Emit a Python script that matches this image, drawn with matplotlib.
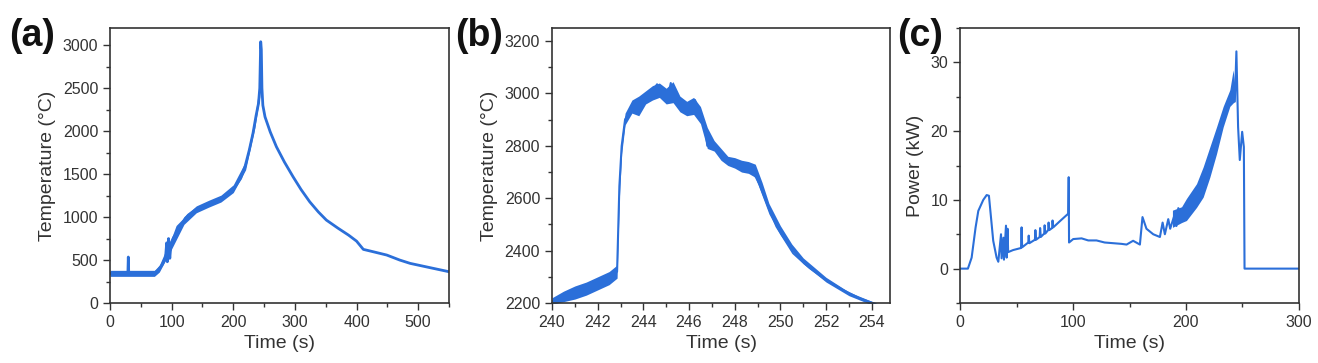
import numpy as np
import matplotlib.pyplot as plt
from matplotlib.ticker import MultipleLocator

plt.rcParams['font.family'] = ['Liberation Sans', 'DejaVu Sans']

BLUE = '#2b6fd9'
DARK = '#333333'

# (a) full temperature history
t_a = [0, 10, 20, 29, 29.7, 30.4, 40, 50, 60, 72, 78, 85, 90, 92, 93, 95, 97, 99, 100,
       105, 110, 120, 127, 140, 154, 170, 181, 195, 203, 212, 219, 226, 232, 237, 241,
       243, 244.5, 245.5, 246.5, 248, 251.5, 260, 270, 283, 297, 310, 324, 338, 351,
       370, 387, 400, 411, 425, 449, 470, 487, 520, 550]
T_a = [345, 340, 345, 340, 535, 340, 345, 340, 345, 345, 380, 450, 520, 700, 480, 750,
       520, 690, 700, 790, 887, 960, 1023, 1090, 1140, 1180, 1221, 1290, 1353, 1450,
       1585, 1780, 1975, 2180, 2325, 2500, 3040, 2950, 2500, 2300, 2166, 1990, 1818,
       1640, 1469, 1320, 1178, 1060, 965, 870, 790, 720, 624, 600, 558, 500, 461, 410, 364]
band_t_a = [0, 72, 80, 100, 120, 140, 160, 180, 200, 220, 235, 243]
band_lo_a = [310, 310, 360, 630, 915, 1050, 1115, 1175, 1285, 1550, 2040, 2400]
band_hi_a = [380, 380, 440, 770, 1005, 1130, 1195, 1255, 1375, 1650, 2160, 2580]

# (b) zoom on the peak
t_b = [240, 240.5, 241, 241.5, 242, 242.5, 242.85, 242.95, 243.05, 243.2, 243.5, 243.7,
       243.8, 243.9, 244.1, 244.36, 244.6, 244.9, 245.1, 245.2, 245.3, 245.53, 245.75,
       245.97, 246.26, 246.5, 246.7, 246.8, 246.98, 247.3, 247.64, 248.0, 248.37, 248.8,
       249.1, 249.5, 249.83, 250.2, 250.56, 251.0, 251.29, 252.0, 252.74, 253.47, 254.2, 254.8]
T_b = [2205, 2225, 2240, 2255, 2275, 2295, 2320, 2646, 2799, 2901, 2946, 2975,
       2925, 2960, 2985, 3003, 3035, 2990, 2995, 3040, 2985, 2952, 2935,
       2940, 2975, 2915, 2875, 2800, 2824, 2785, 2754, 2735, 2722, 2703,
       2650, 2560, 2492, 2440, 2390, 2355, 2333, 2288, 2250, 2218, 2195, 2170]
band_t_b = [240, 240.5, 241, 241.5, 242, 242.5, 242.85, 242.95, 243.05, 243.2, 243.5,
            243.8, 244.1, 244.4, 244.7, 245.0, 245.3, 245.6, 245.9, 246.2, 246.5, 246.8,
            247.1, 247.4, 247.7, 248.0, 248.3, 248.6, 248.9, 249.2, 249.5, 250, 250.5,
            251, 252, 253, 254.8]
band_lo_b = [2195, 2205, 2215, 2230, 2250, 2270, 2295, 2600, 2770, 2880, 2925, 2915,
             2960, 2975, 2985, 2960, 2965, 2930, 2915, 2920, 2885, 2790, 2780, 2745,
             2725, 2715, 2700, 2695, 2680, 2610, 2540, 2460, 2400, 2350, 2280, 2228, 2165]
band_hi_b = [2220, 2245, 2265, 2280, 2300, 2320, 2345, 2700, 2830, 2925, 2975, 2990,
             3010, 3030, 3040, 3020, 3045, 2990, 2970, 2985, 2950, 2870, 2820, 2790,
             2760, 2755, 2745, 2740, 2730, 2660, 2580, 2495, 2425, 2372, 2298, 2242, 2178]

# (c) power
t_c = [0, 7, 10.3, 13.8, 16.2, 20.6, 23.6, 25.6, 27.4, 29.4, 32.4, 33.9, 36.3, 36.8,
       38.4, 38.9, 40.7, 41.3, 42.1, 42.6, 47, 54, 54.5, 55, 60.4, 60.8, 61.4, 66.3, 66.7,
       67.3, 70.5, 70.9, 71.5, 74.5, 74.9, 75.5, 78, 78.4, 79, 81.5, 81.9, 82.5, 88.4,
       95.8, 96.2, 96.5, 100.2, 107.6, 113.5, 120.8, 128, 135.5, 143, 147.4, 153.2, 159.2,
       161.5, 165, 171, 176.9, 179.3, 181.3, 184.3, 186, 190.2, 191.5, 193.2, 196.1, 200.4,
       209.3, 215.2, 221.1, 227, 232.9, 238.8, 241.7, 243.2, 244.6, 246.1, 247.6, 249.7,
       251.2, 251.8, 300]
P_c = [0, 0, 1.6, 6.0, 8.4, 10.0, 10.7, 10.6, 7.5, 4.05, 1.6, 1.0, 5.0, 1.5,
       4.5, 1.3, 6.25, 1.6, 5.8, 2.4, 2.7, 3.0, 6.0, 3.1, 3.8, 4.8, 3.7, 4.2, 5.6,
       4.2, 4.6, 5.9, 4.6, 5.1, 6.3, 5.1, 5.6, 6.7, 5.6, 5.9, 7.0, 6.0, 6.9,
       8.0, 13.3, 3.8, 4.3, 4.4, 4.1, 4.1, 3.8, 3.7, 3.6, 3.5, 4.05, 3.5,
       7.5, 5.8, 5.0, 4.6, 6.7, 5.0, 7.2, 5.8, 8.0, 6.2, 8.8, 7.8, 8.6,
       10.6, 12.6, 15.5, 18.6, 22.1, 24.8, 26.5, 24.3, 31.6, 20.6, 15.8, 19.9,
       17.7, 0.0, 0.0]
band_t_c = [188, 196.1, 200.4, 209.3, 215.2, 221.1, 227, 232.9, 238.8, 241.7, 243]
band_lo_c = [6.0, 6.7, 7.0, 8.9, 10.4, 13.3, 16.7, 20.6, 23.6, 24.1, 24.3]
band_hi_c = [8.5, 9.0, 10.2, 12.35, 14.8, 17.7, 20.6, 23.6, 26.0, 28.9, 27.0]

fig = plt.figure(figsize=(13.18, 3.63), dpi=100)
fig.patch.set_facecolor('white')


def style(ax):
    for s in ax.spines.values():
        s.set_color(DARK)
        s.set_linewidth(1.2)
    ax.tick_params(which='both', direction='out', top=False, right=False,
                   color=DARK, labelcolor=DARK, labelsize=11.5, width=1.0)
    ax.tick_params(which='major', length=5)
    ax.tick_params(which='minor', length=3)


# panel a
ax1 = fig.add_axes([110 / 1318, 60 / 363, 339 / 1318, 275 / 363])
ax1.fill_between(band_t_a, band_lo_a, band_hi_a, color=BLUE, lw=0)
ax1.plot(t_a, T_a, color=BLUE, lw=2)
ax1.set_xlim(0, 550)
ax1.set_ylim(0, 3200)
ax1.xaxis.set_major_locator(MultipleLocator(100))
ax1.xaxis.set_minor_locator(MultipleLocator(50))
ax1.yaxis.set_major_locator(MultipleLocator(500))
ax1.yaxis.set_minor_locator(MultipleLocator(250))
ax1.set_xlabel('Time (s)', fontsize=14, color=DARK, labelpad=4)
ax1.set_ylabel('Temperature (°C)', fontsize=14, color=DARK, labelpad=5)
style(ax1)

# panel b
ax2 = fig.add_axes([552 / 1318, 60 / 363, 338 / 1318, 275 / 363])
ax2.fill_between(band_t_b, band_lo_b, band_hi_b, color=BLUE, lw=0)
ax2.plot(t_b, T_b, color=BLUE, lw=1.5)
ax2.set_xlim(240, 254.8)
ax2.set_ylim(2200, 3250)
ax2.xaxis.set_major_locator(MultipleLocator(2))
ax2.xaxis.set_minor_locator(MultipleLocator(1))
ax2.yaxis.set_major_locator(MultipleLocator(200))
ax2.yaxis.set_minor_locator(MultipleLocator(100))
ax2.set_xlabel('Time (s)', fontsize=14, color=DARK, labelpad=4)
ax2.set_ylabel('Temperature (°C)', fontsize=14, color=DARK, labelpad=5)
style(ax2)

# panel c
ax3 = fig.add_axes([960 / 1318, 60 / 363, 339 / 1318, 275 / 363])
ax3.fill_between(band_t_c, band_lo_c, band_hi_c, color=BLUE, lw=0)
ax3.plot(t_c, P_c, color=BLUE, lw=1.5)
ax3.set_xlim(0, 300)
ax3.set_ylim(-5, 35)
ax3.xaxis.set_major_locator(MultipleLocator(100))
ax3.xaxis.set_minor_locator(MultipleLocator(50))
ax3.yaxis.set_major_locator(MultipleLocator(10))
ax3.yaxis.set_minor_locator(MultipleLocator(5))
ax3.set_xlabel('Time (s)', fontsize=14, color=DARK, labelpad=4)
ax3.set_ylabel('Power (kW)', fontsize=14, color=DARK, labelpad=5)
style(ax3)

for x, lab in [(9, '(a)'), (455, '(b)'), (897, '(c)')]:
    fig.text(x / 1318, 1 - 46 / 363, lab, fontsize=27, fontweight='bold', color='#111111')

fig.savefig('out.png', dpi=100, facecolor='white')
